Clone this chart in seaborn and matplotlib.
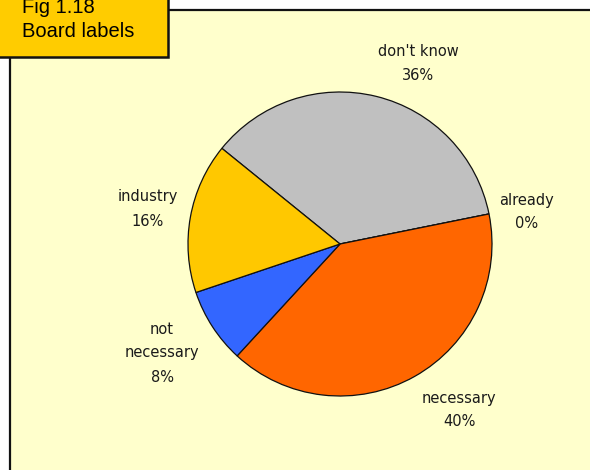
import matplotlib
matplotlib.use("Agg")
import matplotlib.pyplot as plt
from matplotlib.patches import Rectangle
import seaborn as sns

# Survey answers shown in the pie (percent)
categories = ["don't know", "already", "necessary", "not\nnecessary", "industry"]
shares = [36, 0, 40, 8, 16]
slice_colors = ["#C0C0C0", "#FFFFFF", "#FF6600", "#3366FF", "#FFC800"]

title_lines = ["Fig 1.18", "Board labels"]

# Canvas size in pixels (figure drawn at 100 dpi)
W, H = 590, 470

# Label block centres, measured from the top-left corner of the canvas
label_pos = [(418, 64), (527, 212), (459, 410), (162, 353), (148, 209)]

sns.set_theme(style="white")
plt.rcParams["font.family"] = ["DejaVu Sans"]

fig = plt.figure(figsize=(W / 100, H / 100), dpi=100)
fig.patch.set_facecolor("white")
ax = fig.add_axes([0, 0, 1, 1])

# Pale yellow chart panel, open to the right and bottom
panel = Rectangle((10, -10), W + 20, H - 10 + 10, facecolor="#FFFFCC",
                  edgecolor="#111111", linewidth=1.6, zorder=0)
ax.add_patch(panel)

# Pie of the answers, drawn clockwise
wedges, _ = ax.pie(
    shares,
    colors=slice_colors,
    startangle=141.0,
    counterclock=False,
    center=(340, H - 244),
    radius=152,
    wedgeprops=dict(edgecolor="#111111", linewidth=0.9),
    frame=True,
)
for w in wedges:
    w.set_zorder(2)

# Category / percentage labels
for name, val, (x, y) in zip(categories, shares, label_pos):
    ax.text(x, H - y, f"{name}\n{val}%", ha="center", va="center",
            multialignment="center", fontsize=10.5, color="#1a1a1a",
            linespacing=1.75, zorder=3)

# Figure tag box in the top-left corner
tag = Rectangle((-3, H - 57), 171, 70, facecolor="#FFCC00",
                edgecolor="#111111", linewidth=1.8, zorder=4)
ax.add_patch(tag)
ax.text(22, H - 13, title_lines[0], ha="left", va="baseline",
        fontsize=14.5, family="Liberation Sans", color="black", zorder=5)
ax.text(22, H - 37, title_lines[1], ha="left", va="baseline",
        fontsize=14.5, family="Liberation Sans", color="black", zorder=5)

ax.set_xlim(0, W)
ax.set_ylim(0, H)
ax.set_aspect("equal")
ax.axis("off")

fig.savefig("out.png", dpi=100, facecolor="white")
